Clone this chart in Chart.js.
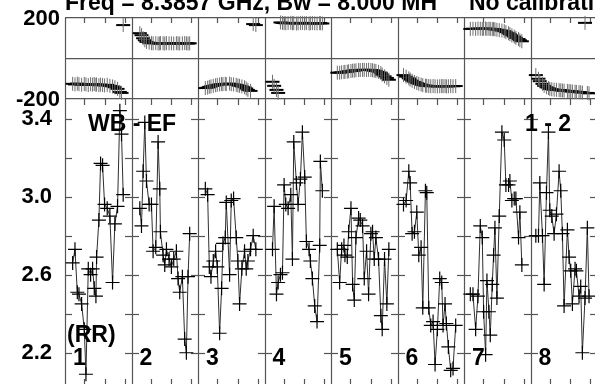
<!DOCTYPE html>
<html>
<head>
<meta charset="utf-8">
<script src="https://cdn.jsdelivr.net/npm/chart.js@4.4.0/dist/chart.umd.min.js"></script>
<style>
  html, body { margin: 0; padding: 0; background: #fff; }
  body { width: 595px; height: 384px; overflow: hidden; position: relative;
         font-family: "Liberation Sans", Arial, sans-serif; font-weight: bold; }
  canvas { position: absolute; left: 0; top: 0; }
  .lbl { position: absolute; font-size: 23px; line-height: 23px; white-space: pre; color: #000; }
</style>
</head>
<body>
<canvas id="phaseChart" width="610" height="384"></canvas>
<canvas id="ampChart" width="610" height="384"></canvas>
<div class="lbl" id="title" style="left:65px; top:-9px;"></div>
<div class="lbl" id="pair" style="left:88px; top:112px;"></div>
<div class="lbl" id="corr" style="left:67px; top:323px;"></div>
<div class="lbl" id="chans" style="left:525px; top:112px;"></div>
<script>
// Plot header and annotations
const titleText = "Freq = 8.3857 GHz, Bw = 8.000 MH     No calibration";
const baselineName = "WB - EF";
const stokesName = "(RR)";
const channelRange = "1 - 2";

// One panel per IF
const panelLabels = ["1", "2", "3", "4", "5", "6", "7", "8"];

// Time of each sample within its panel (fraction of the scan)
const times = [
  [0.115,0.15,0.185,0.21,0.25,0.29,0.315,0.35,0.385,0.415,0.44,0.465,0.475,0.51,0.535,0.565,0.595,0.635,0.675,0.715,0.75,0.79,0.825,0.85,0.875],
  [0.125,0.15,0.175,0.2,0.225,0.265,0.3,0.325,0.365,0.4,0.425,0.435,0.475,0.5,0.525,0.565,0.6,0.635,0.675,0.7,0.725,0.765,0.8,0.825,0.85,0.875],
  [0.11,0.145,0.17,0.195,0.23,0.265,0.29,0.325,0.355,0.375,0.41,0.425,0.475,0.5,0.535,0.575,0.6,0.625,0.66,0.7,0.725,0.75,0.79,0.83,0.87],
  [0.12,0.145,0.18,0.205,0.24,0.27,0.295,0.32,0.355,0.395,0.42,0.44,0.48,0.505,0.54,0.57,0.605,0.63,0.67,0.69,0.72,0.755,0.79,0.83,0.84,0.87],
  [0.095,0.13,0.16,0.195,0.21,0.245,0.265,0.3,0.325,0.35,0.375,0.415,0.44,0.475,0.5,0.535,0.565,0.6,0.625,0.65,0.675,0.715,0.75,0.77,0.805,0.84,0.87],
  [0.09,0.13,0.17,0.19,0.22,0.255,0.29,0.32,0.355,0.38,0.42,0.44,0.47,0.5,0.535,0.565,0.6,0.635,0.665,0.685,0.715,0.735,0.765,0.8,0.835,0.875],
  [0.095,0.135,0.175,0.21,0.245,0.275,0.295,0.325,0.345,0.375,0.395,0.425,0.445,0.465,0.495,0.53,0.57,0.605,0.63,0.67,0.69,0.72,0.755,0.78,0.82,0.84,0.87],
  [0.08,0.12,0.14,0.18,0.205,0.24,0.27,0.29,0.32,0.355,0.39,0.43,0.455,0.48,0.505,0.555,0.58,0.605,0.63,0.67,0.69,0.73,0.755,0.78,0.82,0.855,0.88]
];

// Amplitude (Jy)
const amps = [
  [2.66,2.73,2.51,2.50,2.45,2.32,2.09,2.63,2.60,2.63,2.53,2.49,2.69,2.88,3.17,3.16,2.96,2.94,2.90,2.56,2.86,2.95,3.44,3.32,3.01],
  [2.94,2.85,3.13,3.38,3.08,2.96,2.96,2.72,2.74,3.28,3.04,2.82,2.70,2.65,2.73,2.68,2.64,2.68,2.72,2.58,2.51,2.59,2.27,2.20,2.59,2.81],
  [3.04,3.01,2.64,2.59,2.67,2.72,2.64,2.30,2.53,2.76,2.79,2.97,2.60,2.98,2.99,2.79,2.67,2.45,2.63,2.72,2.63,2.67,2.73,2.80,2.73],
  [2.73,2.95,2.50,2.56,2.60,2.61,3.06,2.96,2.94,3.01,2.68,3.28,3.07,2.96,3.09,3.33,3.10,2.77,2.73,2.67,2.58,2.44,2.36,2.75,3.18,3.03],
  [2.73,2.56,2.73,2.75,2.70,2.69,2.82,2.94,2.55,2.47,2.79,2.89,2.88,2.85,2.58,2.72,2.50,2.81,2.82,2.68,2.79,2.68,2.39,2.32,2.68,2.45,2.73],
  [2.96,2.98,3.13,3.07,2.81,2.82,2.92,2.70,2.74,2.43,3.03,3.02,2.43,2.34,2.36,2.14,2.32,2.58,2.56,2.34,2.45,2.35,2.23,2.11,2.12,2.34],
  [2.50,2.50,2.32,2.49,2.85,2.79,2.41,2.19,2.57,2.41,2.29,2.55,2.70,2.84,2.48,2.90,3.33,3.29,3.06,3.06,3.08,2.98,2.99,2.99,2.79,2.92,2.65],
  [2.80,2.80,3.07,2.80,2.55,3.02,3.33,2.93,2.90,2.81,2.91,3.13,3.03,2.81,2.44,2.83,2.69,2.62,2.45,2.63,2.62,2.49,2.54,2.20,2.48,2.84,2.49]
];

// Phase (degrees)
const phases = [
  [-125,-128,-124,-127,-130,-126,-128,-131,-127,-129,-126,-130,-128,-132,-129,-131,-133,-130,-135,-138,-142,-150,-165,-170,165],
  [125,115,100,90,82,78,76,75,76,74,75,76,75,74,76,75,75,74,76,75,74,75,76,75,74,75],
  [-146,-144,-140,-138,-135,-132,-130,-128,-126,-127,-125,-126,-124,-127,-128,-130,-133,-135,-138,-142,-148,-155,-160,170,165],
  [-115,-135,-155,-170,178,176,175,174,175,176,174,175,173,174,175,176,174,175,173,174,175,174,173,175,174,173],
  [-70,-70,-68,-67,-66,-65,-63,-62,-60,-60,-58,-57,-57,-56,-56,-57,-56,-57,-58,-60,-62,-66,-72,-80,-88,-96,-105],
  [-82,-90,-98,-104,-110,-116,-121,-125,-129,-132,-134,-135,-136,-137,-136,-137,-138,-137,-136,-137,-136,-138,-137,-136,-137,-136],
  [146,147,146,148,147,146,147,148,146,147,146,145,146,144,142,140,138,135,130,125,120,114,108,102,96,90,85],
  [-82,-100,-112,-125,-135,-142,-146,-150,-152,-154,-155,-156,-157,-158,-159,-160,-161,-162,-163,-164,-165,-166,-167,-168,176,-170,-172]
];

// Axis ticks
const phaseTicks = [-200, 0, 200];
const phaseTickLabels = ["-200", "", "200"];
const ampTicks = [2.2, 2.4, 2.6, 2.8, 3.0, 3.2, 3.4];
const ampTickLabels = ["2.2", "", "2.6", "", "3.0", "", "3.4"];
const timeTicks = [0.29, 0.6, 0.9];

const FONT = "'Liberation Sans', Arial, sans-serif";
const FRAME = "#555";

function panelPoints(values) {
  return values.map((row, i) => row.map((v, j) => ({ x: i + times[i][j], y: v })));
}

function line(ctx, x1, y1, x2, y2) {
  ctx.beginPath();
  ctx.moveTo(x1, y1);
  ctx.lineTo(x2, y2);
  ctx.stroke();
}

// panel separators + little time ticks
function drawPanels(chart, tickTop, tickBottom) {
  const { ctx, chartArea: a, scales: { x } } = chart;
  ctx.save();
  ctx.strokeStyle = FRAME;
  ctx.lineWidth = 1.2;
  for (let i = 0; i <= panelLabels.length; i++) {
    const px = Math.round(x.getPixelForValue(i)) + 0.5;
    line(ctx, px, a.top, px, a.bottom);
    if (i === panelLabels.length) continue;
    timeTicks.forEach(f => {
      const tx = Math.round(x.getPixelForValue(i + f)) + 0.5;
      if (tickTop) line(ctx, tx, a.top, tx, a.top + 5);
      if (tickBottom === 'down') line(ctx, tx, a.bottom, tx, a.bottom + 6);
      if (tickBottom === 'up') line(ctx, tx, a.bottom, tx, a.bottom - 5);
    });
  }
  ctx.restore();
}

const phaseFrame = {
  id: 'phaseFrame',
  beforeDatasetsDraw(chart) { drawPanels(chart, true, 'down'); }
};

const ampFrame = {
  id: 'ampFrame',
  beforeDatasetsDraw(chart) {
    drawPanels(chart, false, 'up');
    const { ctx, scales: { x, y } } = chart;
    ctx.save();
    ctx.strokeStyle = FRAME;
    ctx.lineWidth = 1.2;
    for (let i = 0; i <= panelLabels.length; i++) {
      const px = Math.round(x.getPixelForValue(i));
      const left = i === 0 ? 0 : 7;
      const right = i === panelLabels.length ? 0 : 7;
      ampTicks.forEach(v => {
        const py = Math.round(y.getPixelForValue(v)) + 0.5;
        line(ctx, px - left, py, px + right, py);
      });
    }
    ctx.restore();
  }
};

const yAxisBase = {
  type: 'linear',
  position: 'left',
  afterFit: s => { s.width = 65; s.paddingTop = 0; s.paddingBottom = 0; },
  border: { display: false }
};

const commonOptions = {
  responsive: false,
  animation: false,
  events: [],
  plugins: { legend: { display: false }, tooltip: { enabled: false } }
};

// -------------------------------
// Phase panel (top)
// -------------------------------
const phaseSets = [];
panelPoints(phases).forEach(pts => {
  // error bar
  phaseSets.push({
    data: pts, showLine: false, pointStyle: 'line', rotation: 90,
    pointRadius: 7, pointBorderColor: '#6e6e6e', pointBorderWidth: 1, clip: false
  });
  // time bar
  phaseSets.push({
    data: pts, showLine: false, pointStyle: 'line',
    pointRadius: 7, pointBorderColor: '#000', pointBorderWidth: 2, clip: false
  });
});

new Chart(document.getElementById('phaseChart'), {
  type: 'scatter',
  data: { datasets: phaseSets },
  options: {
    ...commonOptions,
    layout: { autoPadding: false, padding: { left: 0, right: 13, top: 18, bottom: 285 } },
    scales: {
      x: { type: 'linear', min: 0, max: panelLabels.length, display: false },
      y: {
        ...yAxisBase,
        min: -200, max: 200,
        afterBuildTicks: s => { s.ticks = phaseTicks.map(v => ({ value: v })); },
        ticks: {
          callback: (v, i) => phaseTickLabels[i],
          font: { family: FONT, size: 22, weight: 'bold' },
          color: '#000', padding: 5, labelOffset: 1
        },
        grid: { drawTicks: false, color: FRAME, lineWidth: 1.2 }
      }
    }
  },
  plugins: [phaseFrame]
});

// -------------------------------
// Amplitude panel (bottom)
// -------------------------------
const ampSets = panelPoints(amps).map(pts => ({
  data: pts, showLine: true, borderColor: '#2e2e2e', borderWidth: 1, tension: 0,
  pointStyle: 'cross', pointRadius: 7, pointBorderColor: '#000', pointBorderWidth: 1.2,
  clip: false
}));

const ampChart = new Chart(document.getElementById('ampChart'), {
  type: 'line',
  data: { datasets: ampSets },
  options: {
    ...commonOptions,
    layout: { autoPadding: false, padding: { left: 0, right: 13, top: 99, bottom: 0 } },
    scales: {
      x: { type: 'linear', min: 0, max: panelLabels.length, display: false },
      y: {
        ...yAxisBase,
        min: 2.04, max: 3.5,
        afterBuildTicks: s => { s.ticks = ampTicks.map(v => ({ value: v })); },
        ticks: {
          callback: (v, i) => ampTickLabels[i],
          font: { family: FONT, size: 22, weight: 'bold' },
          color: '#000', padding: 5
        },
        grid: { display: false }
      }
    }
  },
  plugins: [ampFrame]
});

// text
document.getElementById('title').textContent = titleText;
document.getElementById('pair').textContent = baselineName;
document.getElementById('corr').textContent = stokesName;
document.getElementById('chans').textContent = channelRange;

panelLabels.forEach((name, i) => {
  const d = document.createElement('div');
  d.className = 'lbl';
  d.textContent = name;
  d.style.left = (ampChart.scales.x.getPixelForValue(i) + 8) + 'px';
  d.style.top = '346px';
  document.body.appendChild(d);
});
</script>
</body>
</html>
